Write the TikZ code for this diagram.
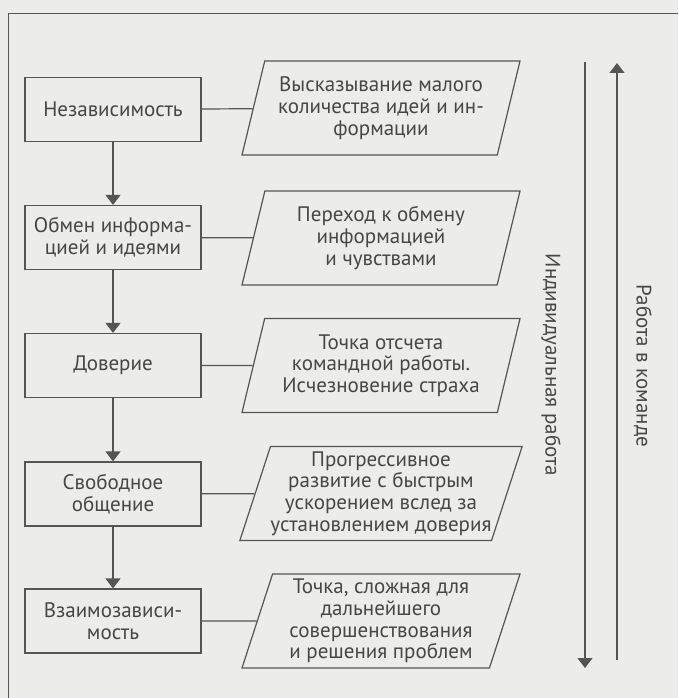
\documentclass[tikz,border=0pt]{standalone}
\usepackage{fontspec}
\setmainfont{PT Sans}
\usepackage{xcolor}
\usetikzlibrary{arrows.meta, positioning, shapes.geometric}
\definecolor{scanbg}{RGB}{236, 236, 234}
\definecolor{inkline}{RGB}{85, 85, 85}
\definecolor{inktext}{RGB}{70, 70, 70}

\begin{document}
\begin{tikzpicture}[x=1pt, y=-1pt, >={Triangle[width=15pt, length=10pt]},
    stage/.style={draw=inkline, line width=1.2pt, minimum width=176,
      minimum height=64, inner sep=0pt, align=center, text=inktext,
      font=\fontsize{21}{21.7}\selectfont},
    outcome/.style={draw=inkline, line width=1.2pt, trapezium,
      trapezium left angle=70, trapezium right angle=110,
      trapezium stretches body, minimum width=278, minimum height=94,
      inner sep=0pt, align=center, text=inktext,
      font=\fontsize{21}{21.7}\selectfont},
    side/.style={text=inktext, rotate=-90,
      font=\fontsize{21}{21.7}\selectfont}]

  % --- page and frame ---
  \useasboundingbox (0,0) rectangle (678,698);
  \fill[scanbg] (0,0) rectangle (678,698);
  \draw[inkline, line width=1pt] (8,698) -- (8,14) -- (678,14);

  % --- stages (left column) ---
  \node[stage] (indep)    at (113,109.5) {Независимость};
  \node[stage] (share)    at (113,237.5) {Обмен информа-\\цией и идеями};
  \node[stage] (trust)    at (113,365.5) {Доверие};
  \node[stage] (open)     at (113,494)   {Свободное\\общение};
  \node[stage] (interdep) at (113,621)   {Взаимозависи-\\мость};

  \foreach \a/\b in {indep/share, share/trust, trust/open, open/interdep}
    \draw[->, inkline, line width=1.2pt] (\a) -- (\b);

  % --- what happens at each stage ---
  \node[outcome] (fewIdeas)  at (381,108)
    {Высказывание малого\\количества идей и ин-\\формации};
  \node[outcome] (feelings)  at (381,238)
    {Переход к обмену\\информацией\\и чувствами};
  \node[outcome] (teamStart) at (381,365.5)
    {Точка отсчета\\командной работы.\\Исчезновение страха};
  \node[outcome] (progress)  at (381,493.5)
    {Прогрессивное\\развитие с быстрым\\ускорением вслед за\\установлением доверия};
  \node[outcome] (hardPoint) at (381,621)
    {Точка, сложная для\\дальнейшего\\совершенствования\\и решения проблем};

  \foreach \a/\b in {indep/fewIdeas, share/feelings, trust/teamStart,
                     open/progress, interdep/hardPoint}
    \draw[inkline, line width=1.2pt] (\a) -- (\b);

  % --- individual vs team work ---
  \coordinate (soloTop) at (585,62);
  \coordinate (soloEnd) at (585,668);
  \coordinate (teamBot) at (617,660);
  \coordinate (teamEnd) at (617,63);
  \draw[->, inkline, line width=1.2pt] (soloTop) -- (soloEnd);
  \draw[->, inkline, line width=1.2pt] (teamBot) -- (teamEnd);

  \node[side] (soloLbl) at (551,365) {Индивидуальная работа};
  \node[side] (teamLbl) at (643,366) {Работа в команде};

\end{tikzpicture}
\end{document}
